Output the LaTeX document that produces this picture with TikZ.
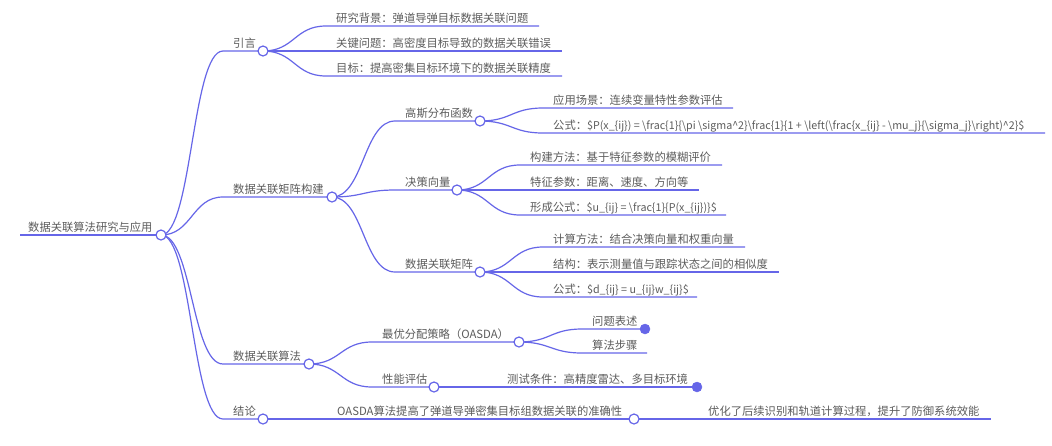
\documentclass[tikz,border=0pt]{standalone}
\usepackage{fontspec}
\setmainfont{Noto Sans CJK SC}
\usetikzlibrary{calc}
\definecolor{lc}{RGB}{102,102,232}
\definecolor{tc}{RGB}{92,92,92}
\pgfdeclarelayer{back}\pgfdeclarelayer{bg}\pgfsetlayers{back,bg,main}
\newcommand{\BSL}{\textbackslash}
\newcommand{\LBR}{\{}
\newcommand{\RBR}{\}}
\newcommand{\USC}{\_}
\newcommand{\CIR}{\textasciicircum}
\newcommand{\lat}{\fontsize{10.7}{13}\selectfont}
\tikzset{
  txt/.style={anchor=base west, inner sep=0pt, text=tc, font=\fontsize{11.3}{13}\selectfont},
  hub/.style={circle, draw=lc, fill=white, line width=1.2pt, minimum size=10pt, inner sep=0pt},
  dotnode/.style={circle, fill=lc, draw=lc, minimum size=10pt, inner sep=0pt},
  link/.style={draw=lc, line width=1.2pt},
}
\newcommand{\curvelink}[3]{%
  \begin{pgfonlayer}{bg}
  \draw[link] let \p1=(#1), \p2=(#2) in (\p1) .. controls ({(\x1+\x2)/2},\y1) and ({(\x1+\x2)/2},\y2) .. (\p2) -- (#3);
  \end{pgfonlayer}}
\newcommand{\straightlink}[2]{%
  \begin{pgfonlayer}{bg}
  \draw[link] (#1.center) -- (#2);
  \end{pgfonlayer}}
\begin{document}
\begin{tikzpicture}[x=1pt,y=-1pt]
\begin{pgfonlayer}{back}
\fill[white] (0,0) rectangle (1052,445);
\end{pgfonlayer}
\useasboundingbox (0,0) rectangle (1052,445);

% root
\coordinate (r-s) at (20,235);
\node[hub] (r) at (161,235) {};
\node[txt] (t-r) at (28,231) {数据关联算法研究与应用};
\begin{pgfonlayer}{bg}\draw[link] (r-s) -- (r.center);\end{pgfonlayer}

% level 1
\coordinate (yy-s) at (223,51);
\node[hub] (yy) at (263,51) {};
\node[txt] (t-yy) at (233,47) {引言};
\curvelink{r}{yy-s}{yy.center}

\coordinate (jz-s) at (223,197);
\node[hub] (jz) at (332,197) {};
\node[txt] (t-jz) at (233,193) {数据关联矩阵构建};
\curvelink{r}{jz-s}{jz.center}

\coordinate (sf-s) at (223,364);
\node[hub] (sf) at (309,364) {};
\node[txt] (t-sf) at (233,360) {数据关联算法};
\curvelink{r}{sf-s}{sf.center}

\coordinate (jl-s) at (223,419);
\node[hub] (jl) at (263,419) {};
\node[txt] (t-jl) at (233,415) {结论};
\curvelink{r}{jl-s}{jl.center}

% 引言 children
\coordinate (yy1-s) at (326,26); \coordinate (yy1-e) at (539,26);
\node[txt] (t-yy1) at (336,22) {研究背景：弹道导弹目标数据关联问题};
\curvelink{yy}{yy1-s}{yy1-e}
\coordinate (yy2-s) at (326,51); \coordinate (yy2-e) at (562,51);
\node[txt] (t-yy2) at (336,47) {关键问题：高密度目标导致的数据关联错误};
\curvelink{yy}{yy2-s}{yy2-e}
\coordinate (yy3-s) at (326,76); \coordinate (yy3-e) at (562,76);
\node[txt] (t-yy3) at (336,72) {目标：提高密集目标环境下的数据关联精度};
\curvelink{yy}{yy3-s}{yy3-e}

% 数据关联矩阵构建 children
\coordinate (gs-s) at (395,121);
\node[hub] (gs) at (480,121) {};
\node[txt] (t-gs) at (405,117) {高斯分布函数};
\curvelink{jz}{gs-s}{gs.center}

\coordinate (jc-s) at (395,190);
\node[hub] (jc) at (457,190) {};
\node[txt] (t-jc) at (405,186) {决策向量};
\curvelink{jz}{jc-s}{jc.center}

\coordinate (jm-s) at (395,272);
\node[hub] (jm) at (480,272) {};
\node[txt] (t-jm) at (405,268) {数据关联矩阵};
\curvelink{jz}{jm-s}{jm.center}

% 高斯分布函数 children
\coordinate (gs1-s) at (543,108); \coordinate (gs1-e) at (733,108);
\node[txt] (t-gs1) at (553,104) {应用场景：连续变量特性参数评估};
\curvelink{gs}{gs1-s}{gs1-e}
\coordinate (gs2-s) at (543,133); \coordinate (gs2-e) at (1045,133);
\node[txt] (t-gs2) at (553,129) {公式：{\lat\$P(x\USC\LBR ij\RBR) = \BSL frac\LBR 1\RBR\LBR\BSL pi \BSL sigma\CIR 2\RBR\BSL frac\LBR 1\RBR\LBR 1 + \BSL left(\BSL frac\LBR x\USC\LBR ij\RBR\ - \BSL mu\USC j\RBR\LBR\BSL sigma\USC j\RBR\BSL right)\CIR 2\RBR\$}};
\curvelink{gs}{gs2-s}{gs2-e}

% 决策向量 children
\coordinate (jc1-s) at (520,165); \coordinate (jc1-e) at (722,165);
\node[txt] (t-jc1) at (530,161) {构建方法：基于特征参数的模糊评价};
\curvelink{jc}{jc1-s}{jc1-e}
\coordinate (jc2-s) at (520,190); \coordinate (jc2-e) at (699,190);
\node[txt] (t-jc2) at (530,186) {特征参数：距离、速度、方向等};
\curvelink{jc}{jc2-s}{jc2-e}
\coordinate (jc3-s) at (520,215); \coordinate (jc3-e) at (726,215);
\node[txt] (t-jc3) at (530,211) {形成公式：{\lat\$u\USC\LBR ij\RBR\ = \BSL frac\LBR 1\RBR\LBR P(x\USC\LBR ij\RBR)\RBR\$}};
\curvelink{jc}{jc3-s}{jc3-e}

% 数据关联矩阵 children
\coordinate (jm1-s) at (543,247); \coordinate (jm1-e) at (745,247);
\node[txt] (t-jm1) at (553,243) {计算方法：结合决策向量和权重向量};
\curvelink{jm}{jm1-s}{jm1-e}
\coordinate (jm2-s) at (543,272); \coordinate (jm2-e) at (779,272);
\node[txt] (t-jm2) at (553,268) {结构：表示测量值与跟踪状态之间的相似度};
\curvelink{jm}{jm2-s}{jm2-e}
\coordinate (jm3-s) at (543,297); \coordinate (jm3-e) at (697,297);
\node[txt] (t-jm3) at (553,293) {公式：{\lat\$d\USC\LBR ij\RBR\ = u\USC\LBR ij\RBR w\USC\LBR ij\RBR\$}};
\curvelink{jm}{jm3-s}{jm3-e}

% 数据关联算法 children
\coordinate (yh-s) at (372,342);
\node[hub] (yh) at (519,342) {};
\node[txt] (t-yh) at (382,338) {最优分配策略（OASDA）};
\curvelink{sf}{yh-s}{yh.center}

\coordinate (xn-s) at (372,387);
\node[hub] (xn) at (434,387) {};
\node[txt] (t-xn) at (382,383) {性能评估};
\curvelink{sf}{xn-s}{xn.center}

% 最优分配策略 children
\coordinate (wt-s) at (582,329);
\node[dotnode] (wt) at (645,329) {};
\node[txt] (t-wt) at (592,325) {问题表述};
\curvelink{yh}{wt-s}{wt.center}
\coordinate (bz-s) at (582,353); \coordinate (bz-e) at (647,353);
\node[txt] (t-bz) at (592,349) {算法步骤};
\curvelink{yh}{bz-s}{bz-e}

% 性能评估 child
\node[dotnode] (cs) at (697,387) {};
\node[txt] (t-cs) at (507,383) {测试条件：高精度雷达、多目标环境};
\straightlink{xn}{cs.center}

% 结论 children
\node[hub] (js1) at (634,419) {};
\node[txt] (t-js1) at (337,415) {OASDA算法提高了弹道导弹密集目标组数据关联的准确性};
\straightlink{jl}{js1.center}
\coordinate (js2-e) at (991,419);
\node[txt] (t-js2) at (708,415) {优化了后续识别和轨道计算过程，提升了防御系统效能};
\straightlink{js1}{js2-e}
\end{tikzpicture}
\end{document}
